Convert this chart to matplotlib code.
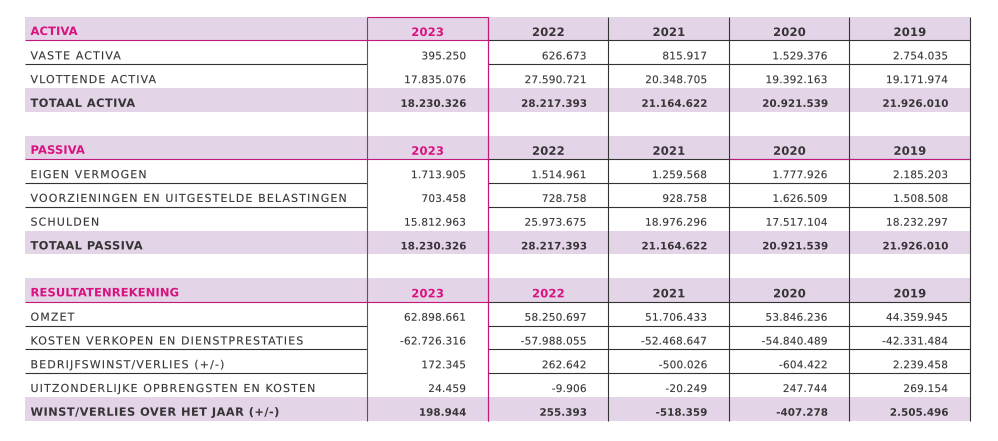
import numpy as np
import matplotlib
matplotlib.use("Agg")
import matplotlib.pyplot as plt
from matplotlib import font_manager, ft2font
from matplotlib import patheffects as pe
from matplotlib.path import Path
from matplotlib.patches import Rectangle

W, H, DPI = 998, 441, 100

# ---- data -------------------------------------------------------------
years = ["2023", "2022", "2021", "2020", "2019"]

activa_title = "ACTIVA"
activa_labels = ["VASTE ACTIVA", "VLOTTENDE ACTIVA"]
vaste_activa = [395250, 626673, 815917, 1529376, 2754035]
vlottende_activa = [17835076, 27590721, 20348705, 19392163, 19171974]
totaal_activa_label = "TOTAAL ACTIVA"
totaal_activa = [18230326, 28217393, 21164622, 20921539, 21926010]

passiva_title = "PASSIVA"
passiva_labels = ["EIGEN VERMOGEN", "VOORZIENINGEN EN UITGESTELDE BELASTINGEN", "SCHULDEN"]
eigen_vermogen = [1713905, 1514961, 1259568, 1777926, 2185203]
voorzieningen = [703458, 728758, 928758, 1626509, 1508508]
schulden = [15812963, 25973675, 18976296, 17517104, 18232297]
totaal_passiva_label = "TOTAAL PASSIVA"
totaal_passiva = [18230326, 28217393, 21164622, 20921539, 21926010]

result_title = "RESULTATENREKENING"
result_labels = ["OMZET", "KOSTEN VERKOPEN EN DIENSTPRESTATIES",
                 "BEDRIJFSWINST/VERLIES (+/-)", "UITZONDERLIJKE OPBRENGSTEN EN KOSTEN"]
omzet = [62898661, 58250697, 51706433, 53846236, 44359945]
kosten = [-62726316, -57988055, -52468647, -54840489, -42331484]
bedrijfswinst = [172345, 262642, -500026, -604422, 2239458]
uitzonderlijk = [24459, -9906, -20249, 247744, 269154]
winst_label = "WINST/VERLIES OVER HET JAAR (+/-)"
winst = [198944, 255393, -518359, -407278, 2505496]

activa_highlight = ["2023"]
passiva_highlight = ["2023"]
result_highlight = ["2023", "2022"]

# ---- style ------------------------------------------------------------
MAGENTA = "#d8137f"
MAG_LINE = "#c21a7c"
BAND = "#e4d4e8"
TEXT = "#363436"
LINE = "#333333"
FONT = "DejaVu Sans"
LW = 0.8

COL_EDGES = [25, 367, 488, 608.5, 729, 849.5, 970]
TOP = 16.7
ROW_H = 23.76

try:
    KERN = ft2font.Kerning.DEFAULT
except AttributeError:
    KERN = ft2font.KERNING_DEFAULT


def fmt(v):
    return f"{v:,}".replace(",", ".")


class Tracking(pe.AbstractPathEffect):
    """Draw text as a path with extra space between letters (in pixels)."""

    def __init__(self, text, weight, track, ha, stroke=0.0):
        super().__init__()
        self.track = track
        self.n = len(text)
        self.ha = ha
        self.stroke = stroke
        prop = font_manager.FontProperties(family=FONT, weight=weight)
        font = font_manager.get_font(font_manager.findfont(prop))
        font.set_size(100, 72)  # same units as TextToPath (FONT_SCALE=100)
        x, prev, pos = 0.0, None, []
        for c in text:
            gi = font.get_char_index(ord(c))
            if prev is not None:
                x += font.get_kerning(prev, gi, KERN) / 64
            pos.append(x)
            x += font.load_char(ord(c)).linearHoriAdvance / 65536
            prev = gi
        self.bounds = np.array(pos + [x])

    def draw_path(self, renderer, gc, tpath, affine, rgbFace=None):
        scale = affine.get_matrix()[0, 0]
        t = self.track / scale
        verts = tpath.vertices.copy()
        codes = tpath.codes
        shift0 = {"left": 0.0, "center": -t * (self.n - 1) / 2,
                  "right": -t * (self.n - 1)}[self.ha]
        starts = list(np.where(codes == Path.MOVETO)[0]) + [len(codes)]
        for s, e in zip(starts[:-1], starts[1:]):
            real = codes[s:e] != Path.CLOSEPOLY
            xs = verts[s:e, 0][real]
            cx = (xs.min() + xs.max()) / 2
            i = int(np.clip(np.searchsorted(self.bounds, cx, side="right") - 1, 0, self.n - 1))
            verts[s:e, 0] += t * i + shift0
        gc0 = renderer.new_gc()
        gc0.copy_properties(gc)
        gc0.set_linewidth(self.stroke)
        renderer.draw_path(gc0, Path(verts, codes), affine, rgbFace)
        gc0.restore()


def tracked(ax, x, y, s, size, weight="normal", color=TEXT, track=0.0, ha="left", stroke=0.0):
    ax.text(x, y, s, fontsize=size, fontweight=weight, color=color, family=FONT,
            ha=ha, va="baseline",
            path_effects=[Tracking(s, weight, track, ha, stroke)])


def row_top(i):
    return TOP + i * ROW_H


fig = plt.figure(figsize=(W / DPI, H / DPI), dpi=DPI)
ax = fig.add_axes([0, 0, 1, 1])
ax.set_xlim(0, W)
ax.set_ylim(H, 0)
ax.axis("off")

sections = [
    (activa_title, activa_labels, [vaste_activa, vlottende_activa],
     totaal_activa_label, totaal_activa, activa_highlight),
    (passiva_title, passiva_labels, [eigen_vermogen, voorzieningen, schulden],
     totaal_passiva_label, totaal_passiva, passiva_highlight),
    (result_title, result_labels, [omzet, kosten, bedrijfswinst, uitzonderlijk],
     winst_label, winst, result_highlight),
]

left, right = COL_EDGES[0], COL_EDGES[-1]
n_rows = sum(len(s[1]) + 2 for s in sections) + len(sections) - 1
bottom = row_top(n_rows)

row = 0
for si, (title, labels, values, tot_label, tot_vals, hl) in enumerate(sections):
    # header band
    y0 = row_top(row)
    ax.add_patch(Rectangle((left, y0), right - left, ROW_H, color=BAND, lw=0, zorder=0))
    base = y0 + ROW_H / 2 + 6.4
    tracked(ax, 30.5, base, title, 8.3, weight="bold", color=MAGENTA, track=0.1)
    for j, yr in enumerate(years):
        cx = (COL_EDGES[j + 1] + COL_EDGES[j + 2]) / 2
        col = MAGENTA if yr in hl else TEXT
        tracked(ax, cx, base + 1.0, yr, 8.3, weight="bold", color=col, track=0.2, ha="center")
    # line under header
    yl = y0 + ROW_H
    ax.hlines(yl, COL_EDGES[0], COL_EDGES[2], color=MAG_LINE, lw=LW, zorder=2)
    ax.hlines(yl, COL_EDGES[2], COL_EDGES[-1], color=LINE, lw=LW, zorder=2)
    if si == 1:
        ax.hlines(yl, COL_EDGES[4], COL_EDGES[-1], color=MAG_LINE, lw=LW, zorder=2)
    row += 1

    # data rows
    for k, (lab, vals) in enumerate(zip(labels, values)):
        y0 = row_top(row)
        base = y0 + ROW_H / 2 + 7
        tracked(ax, 30.5, base, lab, 7.9, color=TEXT, track=1.15, stroke=0.08)
        for j, v in enumerate(vals):
            tracked(ax, COL_EDGES[j + 2] - 22, base, fmt(v), 7.5, color=TEXT,
                    track=0.25, ha="right", stroke=0.08)
        if k < len(labels) - 1:
            yl = y0 + ROW_H
            ax.hlines(yl, COL_EDGES[0], COL_EDGES[1], color=LINE, lw=LW, zorder=2)
            ax.hlines(yl, COL_EDGES[2], COL_EDGES[-1], color=LINE, lw=LW, zorder=2)
        row += 1

    # total row
    y0 = row_top(row)
    ax.add_patch(Rectangle((left, y0), right - left, ROW_H, color=BAND, lw=0, zorder=0))
    base = y0 + ROW_H / 2 + 7
    tracked(ax, 30.5, base, tot_label, 8.2, weight="bold", color=TEXT, track=0.45)
    for j, v in enumerate(tot_vals):
        tracked(ax, COL_EDGES[j + 2] - 22, base, fmt(v), 7.4, weight="bold",
                color=TEXT, track=0.1, ha="right")
    row += 1
    row += 1  # blank spacer row

# vertical grid
for x in COL_EDGES[2:]:
    ax.vlines(x, TOP, bottom, color=LINE, lw=LW, zorder=3)
# highlighted 2023 column box
ax.vlines([COL_EDGES[1], COL_EDGES[2]], TOP, bottom, color=MAG_LINE, lw=LW, zorder=4)
ax.hlines(TOP, COL_EDGES[1], COL_EDGES[2], color=MAG_LINE, lw=LW, zorder=4)

fig.savefig("out.png", dpi=DPI)
